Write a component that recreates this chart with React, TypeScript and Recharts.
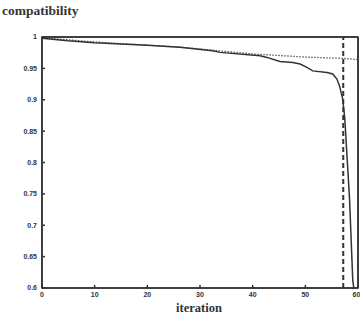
import { LineChart, Line, XAxis, YAxis, ReferenceLine, ReferenceArea } from "recharts";

// solid curve (sampled from the plot)
const solidIter = [0, 4.9, 10, 20, 26.2, 32.4, 33.8, 41.4, 42.7, 45.2, 47.6, 49, 50.3, 51.4, 54.1, 55.2, 56, 56.5, 57.1, 57.5, 58.4, 59, 59.2];
const solidValues = [0.998, 0.994, 0.991, 0.987, 0.9835, 0.978, 0.9755, 0.97, 0.9675, 0.961, 0.9595, 0.957, 0.9515, 0.946, 0.9435, 0.941, 0.933, 0.922, 0.901, 0.869, 0.741, 0.613, 0.6];

// dotted curve
const dottedIter = [0, 10, 20, 26, 40, 50, 57, 60];
const dottedValues = [0.999, 0.992, 0.987, 0.984, 0.973, 0.968, 0.966, 0.964];

// vertical dashed marker
const markerIteration = 57.2;

const xTicks = [0, 10, 20, 30, 40, 50, 60];
const yTicks = [0.6, 0.65, 0.7, 0.75, 0.8, 0.85, 0.9, 0.95, 1];

const solidData = solidIter.map((it, i) => ({ it, v: solidValues[i] }));
const dottedData = dottedIter.map((it, i) => ({ it, v: dottedValues[i] }));

const ink = "#333";
const tickStyle = { fontFamily: "Liberation Sans, Arial, sans-serif", fontSize: 7, fontWeight: 700, fill: ink };

export default function App() {
  return (
    <div style={{ position: "absolute", left: 0, top: 0, width: 360, height: 321, background: "#fff" }}>
      <div
        style={{
          position: "absolute",
          left: 2,
          top: 3,
          fontFamily: "Liberation Serif, serif",
          fontWeight: 700,
          fontSize: 13.5,
          color: ink,
        }}
      >
        compatibility
      </div>
      <div
        style={{
          position: "absolute",
          left: 0,
          width: 398,
          top: 301,
          textAlign: "center",
          fontFamily: "Liberation Serif, serif",
          fontWeight: 700,
          fontSize: 12.5,
          color: ink,
        }}
      >
        iteration
      </div>
      <LineChart width={360} height={321} margin={{ top: 36, right: 1, left: 0, bottom: 13 }}>
        <XAxis
          dataKey="it"
          type="number"
          domain={[0, 60]}
          ticks={xTicks}
          height={20}
          tickSize={-3}
          tickMargin={7}
          tick={tickStyle}
          stroke={ink}
          strokeWidth={1.5}
          allowDataOverflow
        />
        <XAxis
          xAxisId="top"
          orientation="top"
          type="number"
          domain={[0, 60]}
          ticks={xTicks}
          height={1}
          tickSize={-3}
          tick={false}
          stroke={ink}
          strokeWidth={1.5}
          allowDataOverflow
        />
        <YAxis
          type="number"
          domain={[0.6, 1]}
          ticks={yTicks}
          width={42}
          tickSize={-3}
          tickMargin={8}
          tick={tickStyle}
          tickFormatter={(v) => String(Number(v.toFixed(2)))}
          stroke={ink}
          strokeWidth={1.5}
          allowDataOverflow
        />
        <YAxis
          yAxisId="right"
          orientation="right"
          type="number"
          domain={[0.6, 1]}
          ticks={yTicks}
          width={1}
          tickSize={-3}
          tick={false}
          stroke={ink}
          strokeWidth={1.5}
          allowDataOverflow
        />
        <ReferenceArea x1={0} x2={60} y1={0.6} y2={1} fill="none" stroke={ink} strokeWidth={1.5} ifOverflow="extendDomain" />
        <Line
          data={dottedData}
          dataKey="v"
          type="linear"
          stroke="#555"
          strokeWidth={1.3}
          strokeDasharray="1.5 1.5"
          dot={false}
          isAnimationActive={false}
        />
        <Line
          data={solidData}
          dataKey="v"
          type="linear"
          stroke={ink}
          strokeWidth={1.5}
          dot={false}
          isAnimationActive={false}
        />
        <ReferenceLine x={markerIteration} stroke={ink} strokeWidth={2} strokeDasharray="5 3" />
      </LineChart>
    </div>
  );
}
